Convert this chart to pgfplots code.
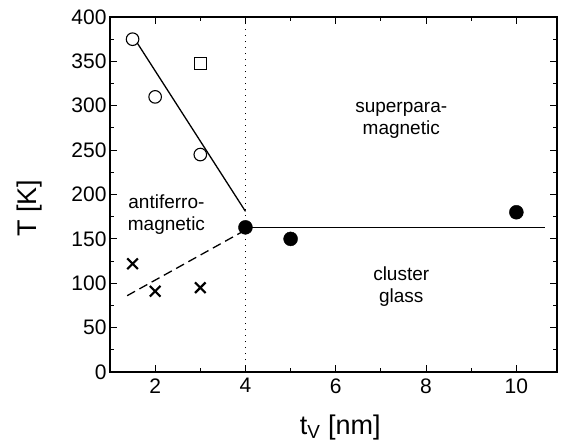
\documentclass[border=0pt]{standalone}
\usepackage{fontspec}
\setmainfont{Liberation Sans}
\usepackage{pgfplots}
\pgfplotsset{compat=1.18}
\begin{document}
\begin{tikzpicture}
\begin{axis}[
    name=main,
    scale only axis,
    width=447pt, height=355pt,
    xmin=1, xmax=10.9,
    ymin=0, ymax=400,
    xtick={2,4,...,10}, minor xtick={1,3,...,9},
    ytick={0,50,...,400}, minor ytick={25,75,...,375},
    tick align=inside,
    major tick length=7pt, minor tick length=4pt,
    axis line style={line width=1.6pt},
    tick style={black, line width=1.1pt},
    tick label style={font=\fontsize{21}{24}\selectfont},
    xticklabel style={yshift=-3pt},
    /pgf/number format/assume math mode=true,
    xlabel={t\textsubscript{V} [nm]},
    ylabel={T [K]},
    label style={font=\fontsize{27}{30}\selectfont},
    xlabel style={at={([yshift=-62pt]axis description cs:0.515,0)}, anchor=base},
    ylabel style={at={([xshift=-73pt]axis description cs:0,0.462)}, anchor=base},
    clip=false,
]
% phase boundaries
\addplot[black, line width=1.3pt, dash pattern=on 1.2pt off 4.8pt] coordinates {(4,0) (4,400)};
\addplot[black, line width=1.3pt] coordinates {(1.6,371) (4,181)};
\addplot[black, line width=1.3pt, dash pattern=on 9pt off 5pt] coordinates {(1.38,86) (4,160)};
\addplot[black, line width=1.3pt] coordinates {(4,163) (10.64,163)};

% open circles
\addplot[only marks, mark=o, mark size=6.3pt, mark options={line width=1.1pt, fill=white}] coordinates {
    (1.5,375) (2,310) (3,245)
};
% open square
\addplot[only marks, mark=square, mark size=6pt, mark options={line width=1.1pt}] coordinates {
    (3,348)
};
% crosses
\addplot[only marks, mark=x, mark size=7.5pt, mark options={line width=2.2pt}] coordinates {
    (1.5,122) (2,91) (3,95)
};
% filled circles
\addplot[only marks, mark=*, mark size=7pt] coordinates {
    (4,163) (5,150) (10,180)
};

\node[align=center, font=\fontsize{19}{22}\selectfont] at (axis cs:2.25,177) {antiferro-\\magnetic};
\node[align=center, font=\fontsize{19}{22}\selectfont] at (axis cs:7.45,284) {superpara-\\magnetic};
\node[align=center, font=\fontsize{19}{22}\selectfont] at (axis cs:7.45,96) {cluster\\glass};
\end{axis}
\pgfresetboundingbox
\path[use as bounding box] ([shift={(-110pt,-73pt)}]main.south west) rectangle ([shift={(5pt,17pt)}]main.north east);
\end{tikzpicture}
\end{document}
